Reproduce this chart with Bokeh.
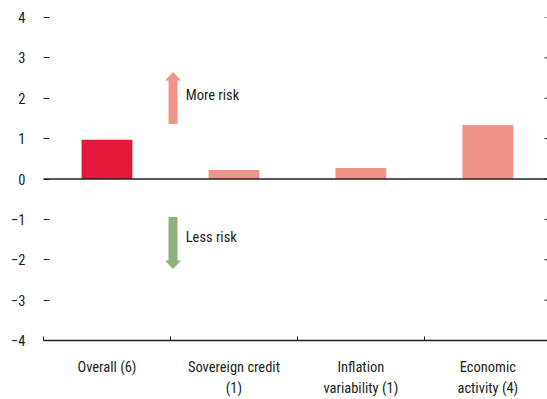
from bokeh.plotting import figure
from bokeh.models import Range1d, FixedTicker, Span, Label
from bokeh.embed import file_html
from bokeh.resources import INLINE

# Risk indicator scores by group (number of indicators in brackets)
categories = ["Overall (6)", "Sovereign credit\n(1)", "Inflation\nvariability (1)", "Economic\nactivity (4)"]
values = [0.97, 0.22, 0.27, 1.34]
bar_colors = ["#e4193a", "#f19487", "#f19487", "#f19487"]

y_ticks = [-4, -3, -2, -1, 0, 1, 2, 3, 4]
y_tick_labels = ["\u22124", "\u22123", "\u22122", "\u22121", "0", "1", "2", "3", "4"]

# Direction arrows: x position, start and tip values
arrow_x = 1.02
more_risk_arrow = (1.36, 2.65)
less_risk_arrow = (-0.94, -2.23)
more_risk_text = ("More risk", 1.12, 2.06)
less_risk_text = ("Less risk", 1.12, -1.46)

FONT = "Roboto Condensed"
FONT_SIZE = "14.5px"
TEXT_COLOR = "#231f20"
UP_COLOR = "#f19487"
DOWN_COLOR = "#8db27b"
X_END = 3.97

centers = [i + 0.5 for i in range(len(categories))]
boundaries = list(range(len(categories) + 1))

p = figure(width=547, height=399, output_backend="svg", toolbar_location=None,
           x_range=Range1d(0, X_END), y_range=Range1d(-4, 4),
           min_border_left=43, min_border_right=0, min_border_top=17, min_border_bottom=59)
p.outline_line_color = None
p.xgrid.grid_line_color = None
p.ygrid.grid_line_color = None
p.background_fill_color = "white"
p.border_fill_color = "white"

p.vbar(x=centers, top=values, bottom=0, width=0.4, color=bar_colors, line_color=None)

p.add_layout(Span(location=0, dimension="width", line_color=TEXT_COLOR, line_width=1.5))

# short tick dashes along the right edge of the plot area
p.scatter(x=[X_END] * len(y_ticks), y=y_ticks, marker="dash", size=6,
          line_color=TEXT_COLOR, line_width=1)


def arrow_outline(x, start, tip, shaft_w=0.071, head_w=0.126, head_len=0.21):
    d = 1 if tip > start else -1
    base = tip - d * head_len
    xs = [x - shaft_w / 2, x + shaft_w / 2, x + shaft_w / 2, x + head_w / 2, x,
          x - head_w / 2, x - shaft_w / 2]
    ys = [start, start, base, base, tip, base, base]
    return xs, ys


for (start, tip), col in ((more_risk_arrow, UP_COLOR), (less_risk_arrow, DOWN_COLOR)):
    xs, ys = arrow_outline(arrow_x, start, tip)
    p.patch(xs, ys, fill_color=col, line_color=None)

for txt, tx, ty in (more_risk_text, less_risk_text):
    p.add_layout(Label(x=tx, y=ty, text=txt, text_font=FONT, text_font_size=FONT_SIZE,
                       text_color=TEXT_COLOR, text_baseline="middle", text_align="left"))

# bottom axis: labels centred on groups, ticks at group boundaries
xa = p.xaxis[0]
xa.ticker = FixedTicker(ticks=centers, minor_ticks=boundaries)
xa.major_label_overrides = {c: lab for c, lab in zip(centers, categories)}
xa.major_tick_in = 0
xa.major_tick_out = 0
xa.minor_tick_in = 4
xa.minor_tick_out = 0
xa.minor_tick_line_color = TEXT_COLOR
xa.axis_line_color = TEXT_COLOR
xa.axis_line_width = 1.5
xa.major_label_standoff = 18
xa.major_label_text_font = FONT
xa.major_label_text_font_size = FONT_SIZE
xa.major_label_text_color = TEXT_COLOR
xa.major_label_text_line_height = 1.25

ya = p.yaxis[0]
ya.ticker = FixedTicker(ticks=y_ticks, minor_ticks=[])
ya.major_label_overrides = {t: lab for t, lab in zip(y_ticks, y_tick_labels)}
ya.axis_line_color = None
ya.major_tick_in = 6
ya.major_tick_out = 0
ya.major_tick_line_color = TEXT_COLOR
ya.major_label_standoff = 18
ya.major_label_text_font = FONT
ya.major_label_text_font_size = FONT_SIZE
ya.major_label_text_color = TEXT_COLOR

open("out.html", "w").write(file_html(p, INLINE))
